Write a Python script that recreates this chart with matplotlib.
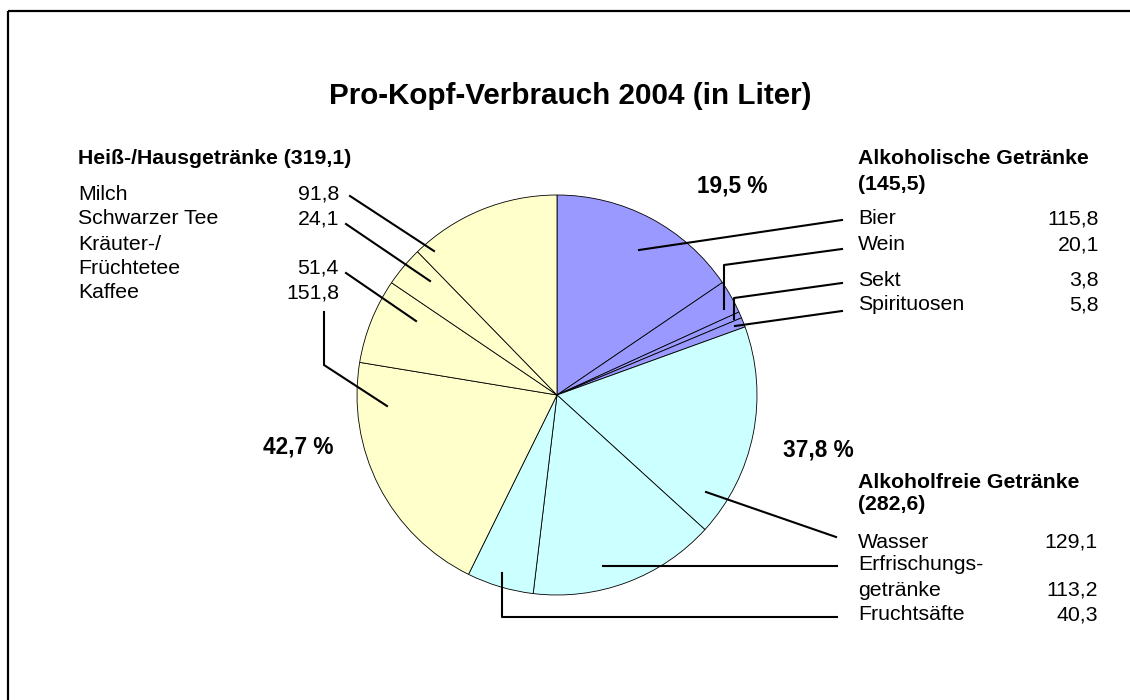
import matplotlib
matplotlib.use('Agg')
import matplotlib.pyplot as plt

plt.rcParams['font.family'] = ['Liberation Sans', 'DejaVu Sans']

# Pro-Kopf-Verbrauch 2004, Liter
names = ['Bier', 'Wein', 'Sekt', 'Spirituosen',
         'Wasser', 'Erfrischungsgetränke', 'Fruchtsäfte',
         'Kaffee', 'Kräuter-/Früchtetee', 'Schwarzer Tee', 'Milch']
values = [115.8, 20.1, 3.8, 5.8,
          129.1, 113.2, 40.3,
          151.8, 51.4, 24.1, 91.8]
groups = ['alk', 'alk', 'alk', 'alk',
          'frei', 'frei', 'frei',
          'heiss', 'heiss', 'heiss', 'heiss']
group_colors = {'alk': '#9999FF', 'frei': '#CCFFFF', 'heiss': '#FFFFCC'}

title = 'Pro-Kopf-Verbrauch 2004 (in Liter)'
alk_head = ['Alkoholische Getränke', '(145,5)']
frei_head = ['Alkoholfreie Getränke', '(282,6)']
heiss_head = 'Heiß-/Hausgetränke (319,1)'
pct_labels = ['19,5 %', '37,8 %', '42,7 %']

left_rows = [('Milch', '91,8'), ('Schwarzer Tee', '24,1'), ('Kräuter-/', ''),
             ('Früchtetee', '51,4'), ('Kaffee', '151,8')]
alk_rows = [('Bier', '115,8'), ('Wein', '20,1'), ('Sekt', '3,8'), ('Spirituosen', '5,8')]
frei_rows = [('Wasser', '129,1'), ('Erfrischungs-', ''), ('getränke', '113,2'),
             ('Fruchtsäfte', '40,3')]

W, H = 1130, 700
fig = plt.figure(figsize=(W / 100, H / 100), dpi=100)
ax = fig.add_axes([0, 0, 1, 1])

colors = [group_colors[g] for g in groups]
# y axis is flipped below, so start at -90 and go counterclockwise (= clockwise on screen from top)
ax.pie(values, colors=colors, startangle=-90, counterclock=True,
       center=(557, 395), radius=200,
       wedgeprops=dict(edgecolor='black', linewidth=0.6))

ax.set_xlim(0, W)
ax.set_ylim(H, 0)
ax.axis('off')

# frame
ax.plot([8, W], [11, 11], color='black', lw=1.6, solid_capstyle='butt')
ax.plot([8, 8], [11, H], color='black', lw=1.6, solid_capstyle='butt')

fs = 15.3
ax.text(570, 96, title, ha='center', va='center', fontsize=21.3, fontweight='bold')

# left block
ax.text(78, 158, heiss_head, ha='left', va='center', fontsize=fs, fontweight='bold')
for (n, v), y in zip(left_rows, [194, 219, 244, 268, 293]):
    ax.text(78, y, n, ha='left', va='center', fontsize=fs)
    if v:
        ax.text(339, y, v, ha='right', va='center', fontsize=fs)

# alcoholic block
ax.text(858, 159, alk_head[0], ha='left', va='center', fontsize=fs, fontweight='bold')
ax.text(858, 184, alk_head[1], ha='left', va='center', fontsize=fs, fontweight='bold')
for (n, v), y in zip(alk_rows, [219, 245, 280, 305]):
    ax.text(858, y, n, ha='left', va='center', fontsize=fs)
    ax.text(1099, y, v, ha='right', va='center', fontsize=fs)

# alcohol-free block
ax.text(858, 482, frei_head[0], ha='left', va='center', fontsize=fs, fontweight='bold')
ax.text(858, 505, frei_head[1], ha='left', va='center', fontsize=fs, fontweight='bold')
for (n, v), y in zip(frei_rows, [542, 565, 590, 615]):
    ax.text(858, y, n, ha='left', va='center', fontsize=fs)
    if v:
        ax.text(1098, y, v, ha='right', va='center', fontsize=fs)

# percentages
for lab, (x, y) in zip(pct_labels, [(732, 186), (818, 450), (298, 447)]):
    ax.text(x, y, lab, ha='center', va='center', fontsize=16.3, fontweight='bold')

# leader lines
leaders = [
    [(639, 250), (842, 220)],
    [(724, 309), (724, 265), (842, 249)],
    [(734, 319), (734, 298), (842, 283)],
    [(735, 326), (842, 311)],
    [(706, 492), (836, 537)],
    [(603, 566), (837, 566)],
    [(502, 573), (502, 617), (837, 617)],
    [(350, 196), (434, 251)],
    [(346, 224), (430, 281)],
    [(346, 273), (416, 321)],
    [(324, 312), (324, 365), (387, 406)],
]
for pts in leaders:
    xs = [p[0] for p in pts]
    ys = [p[1] for p in pts]
    ax.plot(xs, ys, color='black', lw=1.5)

fig.savefig('out.png', dpi=100)
